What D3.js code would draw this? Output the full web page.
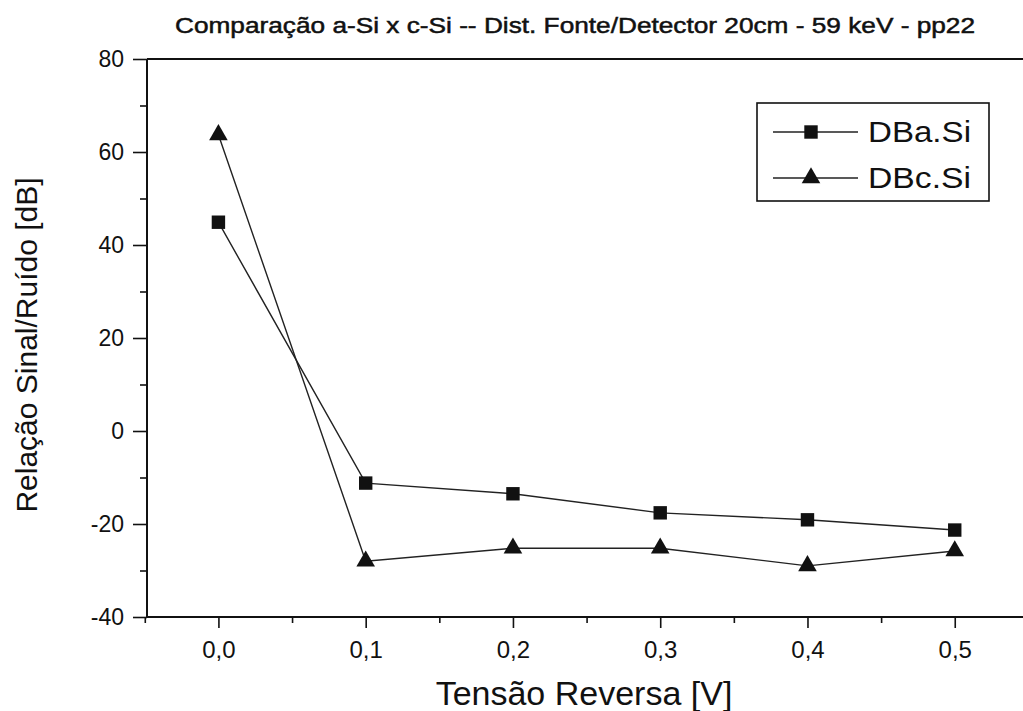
<!DOCTYPE html>
<html><head><meta charset="utf-8">
<script src="https://cdn.jsdelivr.net/npm/d3@7"></script>
<style>body{margin:0;background:#fff}svg{display:block}text{font-family:"Liberation Sans",Arial,sans-serif;fill:#111}</style>
</head><body>
<script>
const xValues = [0.0, 0.1, 0.2, 0.3, 0.4, 0.5];
const seriesNames = ["DBa.Si", "DBc.Si"];
const dbaSi = [44.9, -11.2, -13.5, -17.6, -19.1, -21.3];
const dbcSi = [63.7, -28.0, -25.2, -25.2, -29.0, -25.8];
const xTicks = [0.0, 0.1, 0.2, 0.3, 0.4, 0.5];
const yTicks = [-40, -20, 0, 20, 40, 60, 80];
const titleText = "Comparação a-Si x c-Si -- Dist. Fonte/Detector 20cm - 59 keV - pp22";
const xTitle = "Tensão Reversa [V]";
const yTitle = "Relação Sinal/Ruído [dB]";

const W = 1023, H = 711;
const svg = d3.select("body").append("svg").attr("width", W).attr("height", H);
const L = 147, T = 59, B = 617, R = 1035;
const x = d3.scaleLinear().domain([-0.0485, 0.5545]).range([L, R]);
const y = d3.scaleLinear().domain([-40, 80]).range([B, T]);

const fmt = d => d3.format(".1f")(d).replace(".", ",");
const FF = '"Liberation Sans",Arial,sans-serif';

// x axis
const xAxis = svg.append("g").attr("transform", `translate(0,${B})`)
  .call(d3.axisBottom(x).tickValues(xTicks).tickFormat(fmt).tickSize(11).tickPadding(10));
xAxis.select(".domain").remove();
xAxis.selectAll("text").style("font-size", "24px").style("font-family", FF).attr("dy", "0.85em");
svg.append("g").attr("transform", `translate(0,${B})`)
  .call(d3.axisBottom(x).tickValues(d3.range(-0.05, 0.56, 0.1)).tickFormat("").tickSize(6))
  .select(".domain").remove();

// y axis
const yAxis = svg.append("g").attr("transform", `translate(${L},0)`)
  .call(d3.axisLeft(y).tickValues(yTicks).tickFormat(d => String(d)).tickSize(14).tickPadding(9));
yAxis.select(".domain").remove();
yAxis.selectAll("text").style("font-size", "23px").style("font-family", FF);
svg.append("g").attr("transform", `translate(${L},0)`)
  .call(d3.axisLeft(y).tickValues(d3.range(-30, 80, 20)).tickFormat("").tickSize(7))
  .select(".domain").remove();
svg.selectAll(".tick line").attr("stroke", "#111").attr("stroke-width", 1.6);

// frame
svg.append("line").attr("x1", L).attr("x2", W).attr("y1", B).attr("y2", B).attr("stroke", "#111").attr("stroke-width", 2);
svg.append("line").attr("x1", L).attr("x2", W).attr("y1", T).attr("y2", T).attr("stroke", "#111").attr("stroke-width", 2);
svg.append("line").attr("x1", L).attr("x2", L).attr("y1", T).attr("y2", B).attr("stroke", "#111").attr("stroke-width", 2);

const series = [dbaSi, dbcSi];
const symbols = [d3.symbolSquare, d3.symbolTriangle];
const sizes = [180, 150];
const line = d3.line().x((d, i) => x(xValues[i])).y(d => y(d));
series.forEach((s, k) => {
  svg.append("path").attr("d", line(s)).attr("fill", "none").attr("stroke", "#222").attr("stroke-width", 1.4);
  svg.append("g").selectAll("path").data(s).join("path")
    .attr("d", d3.symbol().type(symbols[k]).size(sizes[k]))
    .attr("transform", (d, i) => `translate(${x(xValues[i])},${y(d)})`)
    .attr("fill", "#111");
});

// legend
const lg = svg.append("g");
lg.append("rect").attr("x", 757).attr("y", 103).attr("width", 232).attr("height", 98)
  .attr("fill", "none").attr("stroke", "#111").attr("stroke-width", 1.6);
seriesNames.forEach((n, k) => {
  const yy = k === 0 ? 132 : 178;
  lg.append("line").attr("x1", 773).attr("x2", 858).attr("y1", yy).attr("y2", yy).attr("stroke", "#222").attr("stroke-width", 1.3);
  lg.append("path").attr("d", d3.symbol().type(symbols[k]).size(sizes[k])())
    .attr("transform", `translate(811,${yy})`).attr("fill", "#111");
  lg.append("text").attr("x", 868).attr("y", yy + 10).attr("font-size", 29)
    .attr("textLength", 103).attr("lengthAdjust", "spacingAndGlyphs").text(n);
});

// titles
svg.append("text").attr("x", 575).attr("y", 33).attr("text-anchor", "middle")
  .attr("font-size", 22).attr("stroke", "#111").attr("stroke-width", 0.5)
  .attr("textLength", 800).attr("lengthAdjust", "spacingAndGlyphs").text(titleText);
svg.append("text").attr("x", 584).attr("y", 705).attr("text-anchor", "middle").attr("font-size", 34).text(xTitle);
svg.append("text").attr("transform", "translate(37,345) rotate(-90)").attr("text-anchor", "middle").attr("font-size", 30).text(yTitle);
</script>
</body></html>
